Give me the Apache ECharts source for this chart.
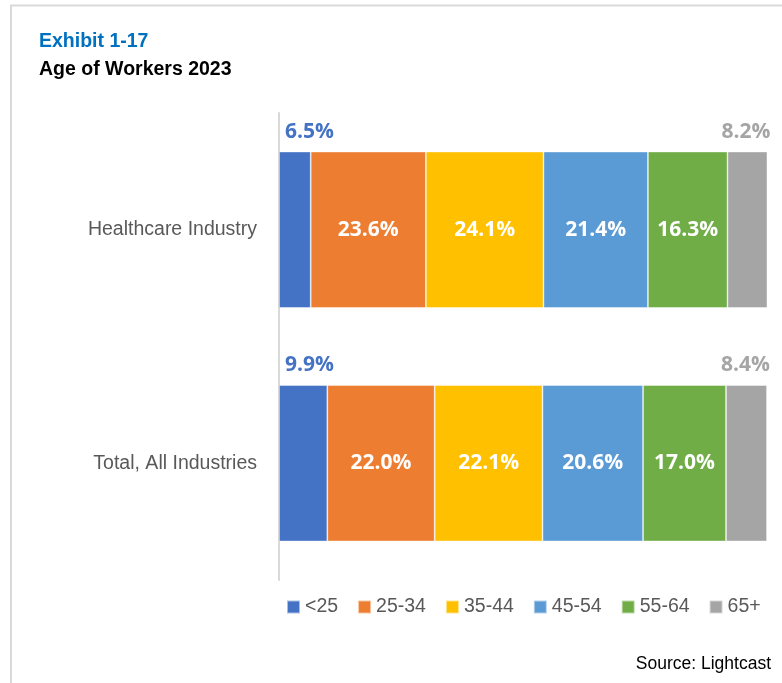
<!DOCTYPE html>
<html>
<head>
<meta charset="utf-8">
<script src="https://cdn.jsdelivr.net/npm/echarts@6/dist/echarts.min.js"></script>
<style>
  html, body { margin: 0; padding: 0; background: #fff; }
  #chart { width: 782px; height: 683px; }
</style>
</head>
<body>
<div id="chart"></div>
<script>
var categories = ['Healthcare Industry', 'Total, All Industries']
var ageGroups = ['<25', '25-34', '35-44', '45-54', '55-64', '65+']
var colors = ['#4472C4', '#ED7D31', '#FFC000', '#5B9BD5', '#70AD47', '#A5A5A5']

// share of workers (%) per age group, [healthcare, total]
var under25 = [6.5, 9.9]
var age25to34 = [23.6, 22.0]
var age35to44 = [24.1, 22.1]
var age45to54 = [21.4, 20.6]
var age55to64 = [16.3, 17.0]
var over65 = [8.2, 8.4]

var values = [under25, age25to34, age35to44, age45to54, age55to64, over65]

var sans = "'Liberation Sans', Arial, sans-serif"
var labelFont = "'Open Sans', 'Noto Sans', sans-serif"

var chart = echarts.init(document.getElementById('chart'))

var series = values.map(function (vals, i) {
    var label = {
        show: true,
        fontFamily: labelFont,
        fontWeight: 'bold',
        fontSize: 21,
        color: '#fff',
        position: 'inside',
        formatter: function (p) { return p.value.toFixed(1) + '%' }
    }
    if (i === 0) {
        // first segment: label sits above the bar, left aligned
        label.position = [6, -20]
        label.align = 'left'
        label.verticalAlign = 'middle'
        label.color = colors[0]
    } else if (i === values.length - 1) {
        // last segment: label above the bar end, right aligned
        label.position = ['100%', -20]
        label.align = 'right'
        label.verticalAlign = 'middle'
        label.offset = [3, 0]
        label.color = colors[i]
    }
    return {
        name: ageGroups[i],
        type: 'bar',
        stack: 'age',
        barWidth: '67%',
        data: vals,
        itemStyle: { color: colors[i], borderColor: 'rgba(255,255,255,0.55)', borderWidth: 0.8 },
        label: label,
        emphasis: { disabled: true }
    }
})

var option = {
    animation: false,
    backgroundColor: '#fff',
    grid: { left: 279, right: 15, top: 113, bottom: 103, containLabel: false },
    xAxis: {
        type: 'value',
        min: 0,
        max: 100,
        show: false
    },
    yAxis: {
        type: 'category',
        data: categories,
        inverse: true,
        axisLine: { show: true, lineStyle: { color: '#d9d9d9', width: 2 } },
        axisTick: { show: false },
        axisLabel: { margin: 22, fontFamily: sans, fontSize: 19.5, color: '#595959' }
    },
    legend: {
        data: ageGroups,
        left: 286,
        top: 597,
        padding: 0,
        icon: 'rect',
        itemWidth: 13,
        itemHeight: 13,
        itemGap: 19,
        textStyle: { fontFamily: sans, fontSize: 19.5, color: '#595959' }
    },
    graphic: [
        { type: 'line', shape: { x1: 10, y1: 5.5, x2: 782, y2: 5.5 }, style: { stroke: '#d9d9d9', lineWidth: 2 } },
        { type: 'line', shape: { x1: 11, y1: 5, x2: 11, y2: 683 }, style: { stroke: '#d9d9d9', lineWidth: 2 } },
        { type: 'text', style: { text: 'Exhibit 1-17', x: 39, y: 42, font: 'bold 19.5px ' + sans, fill: '#0070C0', verticalAlign: 'middle' } },
        { type: 'text', style: { text: 'Age of Workers 2023', x: 39, y: 70, font: 'bold 19.5px ' + sans, fill: '#000', verticalAlign: 'middle' } },
        { type: 'text', style: { text: 'Source: Lightcast', x: 771, y: 664, align: 'right', font: '17.5px ' + sans, fill: '#000', verticalAlign: 'middle' } }
    ],
    series: series
}

chart.setOption(option)
</script>
</body>
</html>
